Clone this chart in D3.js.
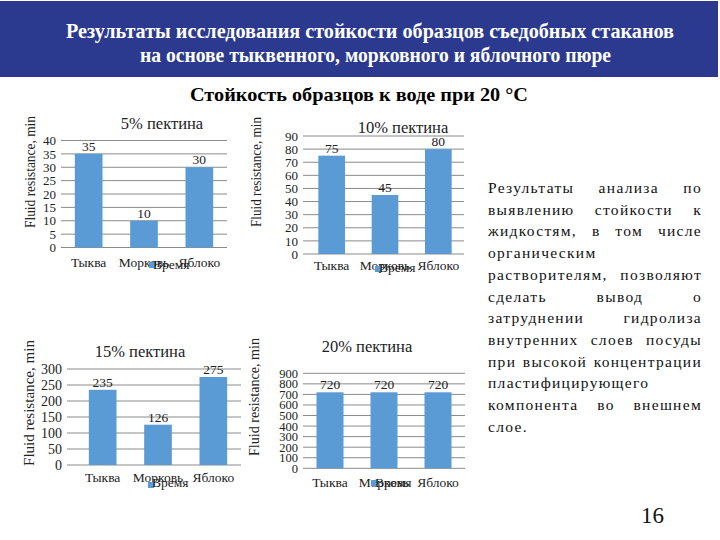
<!DOCTYPE html>
<html><head><meta charset="utf-8">
<script src="https://cdn.jsdelivr.net/npm/d3@7"></script>
<style>
html,body{margin:0;padding:0;background:#fff;}
svg{display:block;}
</style></head>
<body>
<svg id="c" width="720" height="540"></svg>
<script>
// ---- data ----
const categories = ["Тыква", "Морковь", "Яблоко"];
const pectin5 = [35, 10, 30];
const pectin10 = [75, 45, 80];
const pectin15 = [235, 126, 275];
const pectin20 = [720, 720, 720];
const chartTitles = ["5% пектина", "10% пектина", "15% пектина", "20% пектина"];
const ticks5 = [0, 5, 10, 15, 20, 25, 30, 35, 40];
const ticks10 = [0, 10, 20, 30, 40, 50, 60, 70, 80, 90];
const ticks15 = [0, 50, 100, 150, 200, 250, 300];
const ticks20 = [0, 100, 200, 300, 400, 500, 600, 700, 800, 900];
const seriesName = "Время";
const yAxisTitle = "Fluid resistance, min";
const headerLines = ["Результаты исследования стойкости образцов  съедобных стаканов",
                     "на основе тыквенного, морковного и яблочного пюре"];
const subTitle = "Стойкость образцов  к воде при 20 °С";
const bodyLines = ["Результаты анализа по", "выявлению стойкости к", "жидкостям, в том числе",
  "органическим", "растворителям, позволяют", "сделать вывод о", "затруднении гидролиза",
  "внутренних слоев посуды", "при высокой концентрации", "пластифицирующего",
  "компонента во внешнем", "слое."];
const leftAligned = [3, 9, 11];
const pageNumber = "16";

const FONT = "'Liberation Serif', 'DejaVu Serif', 'Times New Roman', Times, serif";
const svg = d3.select("#c").attr("font-family", FONT);
const BLUE = "#5b9bd5";

// header
svg.append("rect").attr("x", 0).attr("y", 1).attr("width", 718).attr("height", 76).attr("fill", "#2b3a8f");
const hdr = [{x: 66, y: 38, w: 608}, {x: 140, y: 62, w: 471}];
headerLines.forEach((t, i) => {
  svg.append("text").attr("x", hdr[i].x).attr("y", hdr[i].y).attr("fill", "#fff")
    .attr("font-family", FONT).attr("font-weight", "bold").attr("font-size", 21)
    .attr("textLength", hdr[i].w).attr("lengthAdjust", "spacingAndGlyphs").text(t);
});
svg.append("text").attr("x", 190).attr("y", 101).attr("font-weight", "bold").attr("font-size", 19)
  .attr("font-family", FONT)
  .attr("textLength", 338).attr("lengthAdjust", "spacingAndGlyphs").attr("fill", "#000").text(subTitle);

// charts
const layouts = [
  {vals: pectin5, ticks: ticks5, tfs: 13, x0: 61, x1: 227, g0: 61, g1: 227, yT: 140.5, yB: 247.5, tx: 162, ty: 129, lx: 30, ly: 172, lw: 112, catY: 267, sqX: 149, sqY: 262, legY: 269},
  {vals: pectin10, ticks: ticks10, tfs: 13, x0: 305, x1: 465, g0: 303, g1: 464, yT: 136, yB: 254, tx: 403, ty: 133, lx: 256, ly: 172, lw: 110, catY: 270, sqX: 375, sqY: 266, legY: 272},
  {vals: pectin15, ticks: ticks15, tfs: 14, x0: 75, x1: 241, g0: 67, g1: 241, yT: 369, yB: 465, tx: 140, ty: 357, lx: 29, ly: 403, lw: 126, catY: 482, sqX: 148, sqY: 482, legY: 487},
  {vals: pectin20, ticks: ticks20, tfs: 12.5, x0: 303, x1: 465, g0: 303, g1: 465, yT: 373.3, yB: 468.3, tx: 367, ty: 352, lx: 254, ly: 397, lw: 118, catY: 487, sqX: 371, sqY: 480, legY: 487}
];

layouts.forEach((L, i) => {
  const g = svg.append("g");
  const x = d3.scaleBand().domain(categories).range([L.x0, L.x1]).paddingInner(0.5).paddingOuter(0.25);
  const y = d3.scaleLinear().domain([0, d3.max(L.ticks)]).range([L.yB, L.yT]);
  g.selectAll("line.grid").data(L.ticks).join("line")
    .attr("x1", L.g0).attr("x2", L.g1)
    .attr("y1", d => y(d)).attr("y2", d => y(d))
    .attr("stroke", "#8a8a8a").attr("stroke-width", 1);
  const ax = d3.axisLeft(y).tickValues(L.ticks).tickSize(0).tickPadding(0);
  const axg = g.append("g").attr("transform", `translate(${L.g0 - 5},0)`).call(ax)
    .attr("font-family", FONT).attr("font-size", L.tfs);
  axg.select(".domain").remove();
  axg.selectAll("text").attr("fill", "#222");
  g.selectAll("rect.bar").data(L.vals).join("rect")
    .attr("x", (d, j) => x(categories[j])).attr("width", x.bandwidth())
    .attr("y", d => y(d)).attr("height", d => y(0) - y(d)).attr("fill", BLUE);
  g.selectAll("text.dl").data(L.vals).join("text")
    .attr("x", (d, j) => x(categories[j]) + x.bandwidth() / 2).attr("y", d => y(d) - 3)
    .attr("text-anchor", "middle").attr("font-family", FONT).attr("font-size", 13.5).attr("fill", "#222").text(d => d);
  const xa = d3.axisBottom(x).tickSize(0).tickPadding(0);
  const xg = g.append("g").attr("transform", `translate(0,${L.catY})`).call(xa)
    .attr("font-family", FONT).attr("font-size", 13.5);
  xg.select(".domain").remove();
  xg.selectAll("text").attr("dy", 0).attr("fill", "#222");
  g.append("text").attr("x", L.tx).attr("y", L.ty).attr("text-anchor", "middle")
    .attr("font-family", FONT).attr("font-size", 16.5).attr("fill", "#222").text(chartTitles[i]);
  g.append("text").attr("transform", `translate(${L.lx + 5},${L.ly}) rotate(-90)`)
    .attr("text-anchor", "middle").attr("font-family", FONT).attr("font-size", 15).attr("fill", "#222")
    .attr("textLength", L.lw).attr("lengthAdjust", "spacingAndGlyphs").text(yAxisTitle);
  g.append("rect").attr("x", L.sqX).attr("y", L.sqY).attr("width", 6).attr("height", 6).attr("fill", BLUE);
  g.append("text").attr("x", L.sqX + 4).attr("y", L.legY).attr("font-family", FONT).attr("font-size", 13.5).attr("fill", "#222").text(seriesName);
});

// body paragraph, justified
const pLeft = 488, pRight = 702, pTop = 193, pLh = 21.7, pFs = 15.5, pLs = 1.3;
bodyLines.forEach((line, i) => {
  const yy = pTop + i * pLh;
  const words = line.split(" ");
  const mk = t => svg.append("text").attr("y", yy).attr("font-family", FONT).attr("font-size", pFs)
    .attr("letter-spacing", pLs).attr("fill", "#111").text(t);
  if (leftAligned.includes(i) || words.length === 1) {
    mk(line).attr("x", pLeft);
    return;
  }
  const nodes = words.map(w => mk(w));
  const widths = nodes.map(n => n.node().getComputedTextLength());
  const gap = (pRight - pLeft - d3.sum(widths)) / (words.length - 1);
  let cx = pLeft;
  nodes.forEach((n, k) => { n.attr("x", cx); cx += widths[k] + gap; });
});

svg.append("text").attr("x", 641).attr("y", 523).attr("font-family", FONT).attr("font-size", 23).attr("fill", "#111").text(pageNumber);
</script>
</body></html>
